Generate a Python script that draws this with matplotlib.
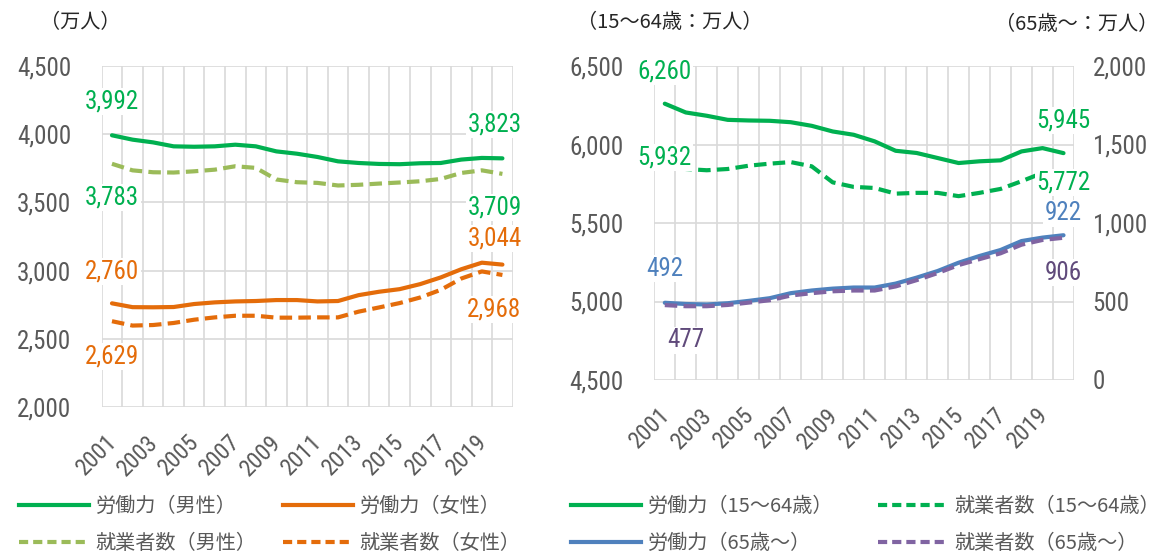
import matplotlib
matplotlib.use('Agg')
import matplotlib.pyplot as plt
from matplotlib import font_manager as fm
from matplotlib.lines import Line2D
from matplotlib.transforms import ScaledTranslation

# ---------------- data ----------------
years = list(range(2001, 2021))
male_lf = [3992, 3960, 3940, 3911, 3908, 3911, 3923, 3911, 3874, 3857,
           3833, 3801, 3789, 3782, 3780, 3787, 3789, 3814, 3826, 3823]
male_emp = [3783, 3735, 3721, 3719, 3728, 3740, 3765, 3753, 3668, 3648,
            3643, 3624, 3629, 3638, 3646, 3655, 3672, 3716, 3735, 3709]
female_lf = [2760, 2732, 2731, 2733, 2755, 2767, 2774, 2777, 2784, 2784,
             2774, 2777, 2820, 2845, 2864, 2901, 2950, 3010, 3058, 3044]
female_emp = [2629, 2597, 2601, 2616, 2640, 2657, 2669, 2669, 2655, 2655,
              2657, 2657, 2699, 2730, 2762, 2803, 2859, 2942, 2994, 2968]
lf_1564 = [6260, 6204, 6183, 6157, 6153, 6151, 6142, 6119, 6083, 6062,
           6020, 5960, 5946, 5914, 5882, 5893, 5899, 5956, 5977, 5945]
emp_1564 = [5932, 5844, 5836, 5844, 5865, 5878, 5888, 5861, 5759, 5730,
            5723, 5687, 5692, 5692, 5671, 5692, 5717, 5766, 5819, 5772]
lf_65 = [492, 484, 481, 489, 504, 521, 553, 570, 582, 589,
         589, 614, 652, 694, 747, 790, 828, 885, 907, 922]
emp_65 = [477, 470, 470, 478, 493, 508, 538, 553, 565, 570,
          570, 596, 636, 681, 732, 770, 807, 862, 892, 906]

left_names = ['労働力（男性）', '就業者数（男性）', '労働力（女性）', '就業者数（女性）']
right_names = ['労働力（15〜64歳）', '労働力（65歳〜）', '就業者数（15〜64歳）', '就業者数（65歳〜）']
unit_left = '（万人）'
unit_r1 = '（15〜64歳：万人）'
unit_r2 = '（65歳〜：万人）'

# ---------------- styles ----------------
GREEN = '#00B050'
LGREEN = '#9BBB59'
ORANGE = '#E46C0A'
BLUE = '#4F81BD'
PURPLE = '#8064A2'
DPURPLE = '#604A7B'
GRAY = '#595959'
GRID = '#D9D9D9'

avail = {f.name for f in fm.fontManager.ttflist}
if 'Liberation Sans Narrow' in avail:
    NUM, k = 'Liberation Sans Narrow', 1.0
elif 'Roboto Condensed' in avail:
    NUM, k = 'Roboto Condensed', 0.9
else:
    NUM, k = 'DejaVu Sans', 0.72
JP = 'Noto Sans CJK JP'
plt.rcParams['font.family'] = [JP, 'DejaVu Sans']

W, H = 1161, 556
fig = plt.figure(figsize=(W / 100, H / 100), dpi=100)


def px_axes(l, t, r, b):
    return fig.add_axes([l / W, 1 - b / H, (r - l) / W, (b - t) / H])


ax1 = px_axes(101.7, 66, 512.7, 407)
ax2 = px_axes(654.3, 66, 1074, 380)
ax2r = ax2.twinx()

LW = 3
DASH = (3, 1.5)
LEG_DASH = (2.2, 1.2)
n = len(years)
xs = list(range(n))
TICK_FS = 20 * k
YEAR_FS = 19 * k
LAB_FS = 20 * k


def setup(ax, lo, hi, step, xoff_px):
    ax.set_xlim(-0.5, n - 0.5)
    ax.set_ylim(lo, hi)
    yt = list(range(lo, hi + 1, step))
    ax.set_yticks(yt)
    ax.set_yticklabels([f'{v:,}' for v in yt], fontfamily=NUM)
    ax.set_xticks(xs[::2])
    ax.set_xticklabels([str(y) for y in years[::2]], fontfamily=NUM,
                       rotation=45, ha='right', va='top', rotation_mode='anchor')
    ax.set_xticks([i - 0.5 for i in range(n + 1)], minor=True)
    ax.grid(True, which='minor', axis='x', color=GRID, lw=1.2)
    ax.grid(True, which='major', axis='y', color=GRID, lw=1.2)
    ax.set_axisbelow(True)
    ax.tick_params(which='both', length=0)
    ax.tick_params(axis='y', pad=22, labelsize=TICK_FS, labelcolor=GRAY)
    ax.tick_params(axis='x', pad=17, labelsize=YEAR_FS, labelcolor=GRAY)
    for s in ax.spines.values():
        s.set_visible(False)
    off = ScaledTranslation(xoff_px / 100, 0, fig.dpi_scale_trans)
    for lbl in ax.get_xticklabels():
        lbl.set_transform(lbl.get_transform() + off)


setup(ax1, 2000, 4500, 500, -7)
setup(ax2, 4500, 6500, 500, -6)

ax2r.set_ylim(0, 2000)
rt = list(range(0, 2001, 500))
ax2r.set_yticks(rt)
ax2r.set_yticklabels([f'{v:,}' for v in rt], fontfamily=NUM)
ax2r.tick_params(length=0, pad=13.5, labelsize=TICK_FS, labelcolor=GRAY)
for s in ax2r.spines.values():
    s.set_visible(False)

# ---------------- lines ----------------
ax1.plot(xs, male_lf, color=GREEN, lw=LW, solid_capstyle='round')
ax1.plot(xs, male_emp, color=LGREEN, lw=LW, dashes=DASH)
ax1.plot(xs, female_lf, color=ORANGE, lw=LW, solid_capstyle='round')
ax1.plot(xs, female_emp, color=ORANGE, lw=LW, dashes=DASH)

ax2.plot(xs, lf_1564, color=GREEN, lw=LW, solid_capstyle='round')
ax2.plot(xs, emp_1564, color=GREEN, lw=LW, dashes=DASH)
ax2r.plot(xs, lf_65, color=BLUE, lw=LW, solid_capstyle='round')
ax2r.plot(xs, emp_65, color=PURPLE, lw=LW, dashes=DASH)

# ---------------- data labels ----------------
BOX = dict(fc='white', ec='none', pad=1.0)


def lab(ax, trans, x, v, dx, dy, color):
    ax.annotate(f'{v:,}', xy=(x, v), xycoords=trans, xytext=(dx, dy),
                textcoords='offset pixels', ha='center', va='center',
                fontsize=LAB_FS, fontfamily=NUM, color=color, bbox=BOX,
                zorder=10, annotation_clip=False)


last = n - 1
t1 = ax1.transData
lab(ax1, t1, 0, male_lf[0], 0, 34, GREEN)
lab(ax1, t1, 0, male_emp[0], 0, -34, GREEN)
lab(ax1, t1, 0, female_lf[0], 0, 32, ORANGE)
lab(ax1, t1, 0, female_emp[0], 0, -35, ORANGE)
lab(ax1, t1, last, male_lf[last], -8, 34, GREEN)
lab(ax1, t1, last, male_emp[last], -8, -34, GREEN)
lab(ax1, t1, last, female_lf[last], -8, 26, ORANGE)
lab(ax1, t1, last, female_emp[last], -8, -35, ORANGE)

t2 = ax2.transData
t2r = ax2r.transData
lab(ax2r, t2, 0, lf_1564[0], 0, 32, GREEN)
lab(ax2r, t2, 0, emp_1564[0], 0, -2, GREEN)
lab(ax2r, t2r, 0, lf_65[0], 0, 34, BLUE)
lab(ax2r, t2r, 0, emp_65[0], 21, -35, DPURPLE)
lab(ax2r, t2, last, lf_1564[last], 0, 33, GREEN)
lab(ax2r, t2, last, emp_1564[last], 0, -2, GREEN)
lab(ax2r, t2r, last, lf_65[last], 0, 22, BLUE)
lab(ax2r, t2r, last, emp_65[last], 0, -35, DPURPLE)

# ---------------- unit labels ----------------
fig.text(40 / W, 1 - 23 / H, unit_left, fontsize=14.5, color='#262626', va='center')
fig.text(577 / W, 1 - 23 / H, unit_r1, fontsize=14.5, color='#262626', va='center')
fig.text(1158 / W, 1 - 24 / H, unit_r2, fontsize=14.5, color='#262626', va='center', ha='right')


# ---------------- legends ----------------
def handle(color, dashed):
    if dashed:
        return Line2D([], [], color=color, lw=LW, dashes=LEG_DASH)
    return Line2D([], [], color=color, lw=LW)


def leg(handles, labels, x_px):
    lg = fig.legend(handles, labels, loc='center left',
                    bbox_to_anchor=(x_px / W, 1 - 525 / H), frameon=False,
                    borderpad=0, borderaxespad=0, handlelength=3.5,
                    handletextpad=0.3, labelspacing=0.75, fontsize=14.5)
    for t in lg.get_texts():
        t.set_color(GRAY)
    return lg


leg([handle(GREEN, False), handle(LGREEN, True)], [left_names[0], left_names[1]], 19)
leg([handle(ORANGE, False), handle(ORANGE, True)], [left_names[2], left_names[3]], 283)
leg([handle(GREEN, False), handle(BLUE, False)], [right_names[0], right_names[1]], 571)
leg([handle(GREEN, True), handle(PURPLE, True)], [right_names[2], right_names[3]], 878)

fig.savefig('out.png', dpi=100)
